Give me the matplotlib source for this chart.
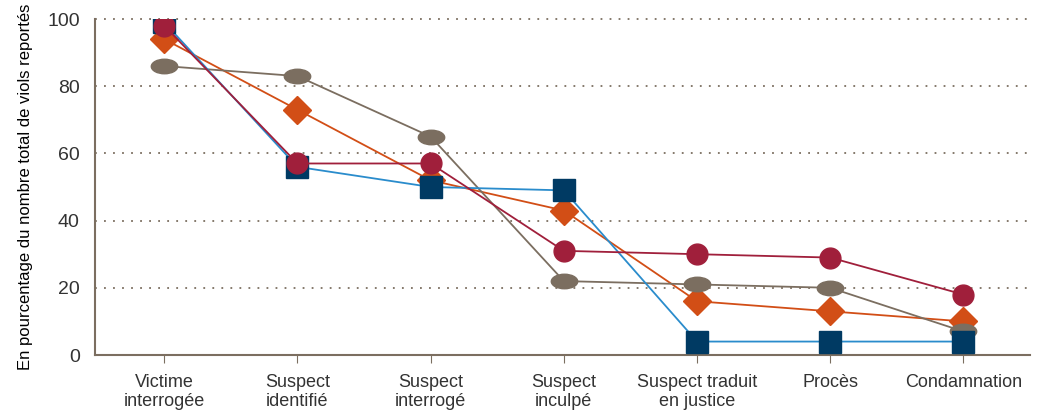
import numpy as np
import matplotlib
matplotlib.use("Agg")
from matplotlib import pyplot as plt
from matplotlib.path import Path
from matplotlib.transforms import Affine2D

plt.rcParams.update({"font.family": ["Liberation Sans Narrow", "Liberation Sans", "DejaVu Sans"],
                     "text.color": "#333333",
                     "xtick.color": "#333333",
                     "ytick.color": "#333333"})

stages = ["Victime\ninterrogée", "Suspect\nidentifié", "Suspect\ninterrogé",
          "Suspect\ninculpé", "Suspect traduit\nen justice", "Procès", "Condamnation"]

# series values (percent of reported rapes)
serie_carre = [99, 56, 50, 49, 4, 4, 4]
serie_losange = [94, 73, 52, 43, 16, 13, 10]
serie_rond = [98, 57, 57, 31, 30, 29, 18]
serie_ellipse = [86, 83, 65, 22, 21, 20, 7]

ellipse = Path.unit_circle().transformed(Affine2D().scale(1, 0.55))

fig = plt.figure(figsize=(10.4, 4.19), dpi=100)
ax = fig.add_axes([95 / 1040, 64 / 419, 935 / 1040, 336 / 419])
x = np.arange(len(stages))

ax.plot(x, serie_losange, color="#d24e16", lw=1.3, zorder=3)
ax.plot(x, serie_losange, ls="none", marker="D", ms=14, color="#d24e16", zorder=4)
ax.plot(x, serie_ellipse, color="#7b6e60", lw=1.3, zorder=5)
ax.plot(x, serie_ellipse, ls="none", marker=ellipse, ms=19, color="#7b6e60", zorder=6)
ax.plot(x, serie_carre, color="#2a8ccc", lw=1.3, zorder=7)
ax.plot(x, serie_carre, ls="none", marker="s", ms=15.5, color="#003a63", zorder=8)
ax.plot(x, serie_rond, color="#a01f3b", lw=1.3, zorder=9)
ax.plot(x, serie_rond, ls="none", marker="o", ms=15, color="#a01f3b", zorder=10)

ax.set_xlim(-0.52, 6.5)
ax.set_ylim(0, 100)
ax.set_yticks([0, 20, 40, 60, 80, 100])
ax.set_xticks(x)
ax.set_xticklabels(stages, fontsize=13, linespacing=1.1)
ax.tick_params(axis="y", length=0, labelsize=14, pad=11)
ax.tick_params(axis="x", length=6, color="#7b6e60", pad=8)

for gy in [20, 40, 60, 80, 100]:
    ax.axhline(gy, color="#7b6e60", lw=1.3, ls=(0, (1, 4)), zorder=1, clip_on=False)

for s in ["top", "right"]:
    ax.spines[s].set_visible(False)
for s in ["left", "bottom"]:
    ax.spines[s].set_color("#7b6e60")
    ax.spines[s].set_linewidth(1.5)

ax.set_ylabel("En pourcentage du nombre total de viols reportés", fontsize=12, labelpad=10)

fig.savefig("out.png", dpi=100)
